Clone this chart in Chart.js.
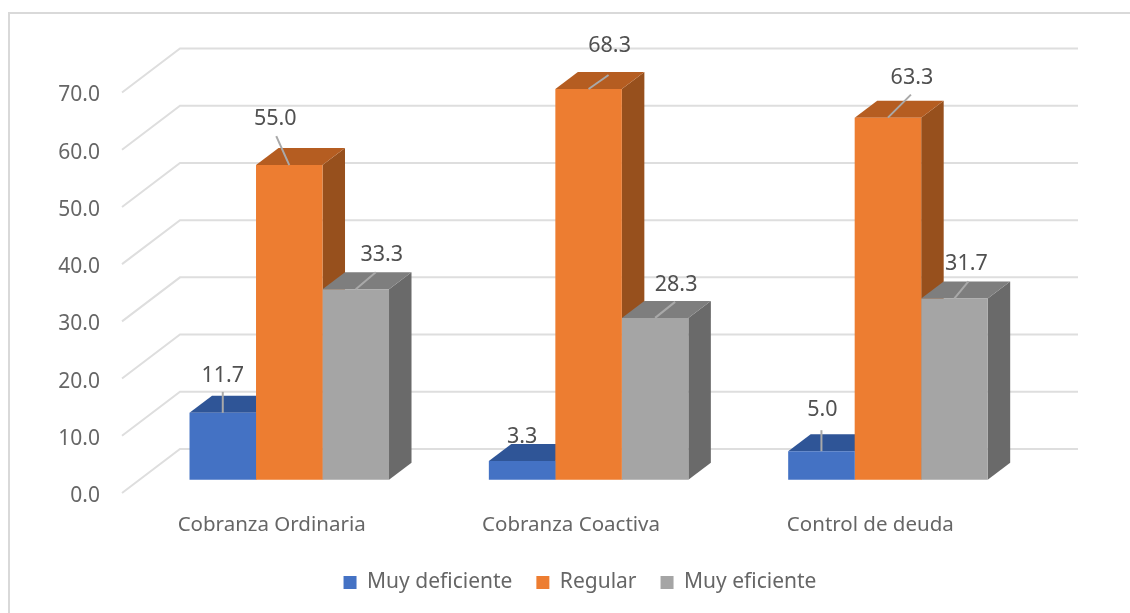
<!DOCTYPE html>
<html lang="es">
<head>
<meta charset="utf-8">
<title>Cobranza</title>
<script src="https://cdn.jsdelivr.net/npm/chart.js@4/dist/chart.umd.js"></script>
<style>
  html, body { margin: 0; padding: 0; background: #fff; }
  #wrap { position: relative; width: 1130px; height: 613px; overflow: hidden; }
  #frame { position: absolute; left: 8px; top: 12px; right: -4px; bottom: -4px;
           border-top: 2px solid #d9d9d9; border-left: 2px solid #d9d9d9; }
  canvas { position: absolute; left: 0; top: 0; }
</style>
</head>
<body>
<div id="wrap">
  <div id="frame"></div>
  <canvas id="chart" width="1130" height="613"></canvas>
</div>
<script>
const categories = ['Cobranza Ordinaria', 'Cobranza Coactiva', 'Control de deuda'];
const muyDeficiente = [11.7, 3.3, 5.0];
const regular = [55.0, 68.3, 63.3];
const muyEficiente = [33.3, 28.3, 31.7];
const valueTicks = [0, 10, 20, 30, 40, 50, 60, 70];

const FONT = 'Noto Sans';
const DEPTH_X = 22.5, DEPTH_Y = 17;      // oblique offset of a bar's back face
const WALL_X = 58, WALL_Y = 44;          // oblique offset of the back wall
const BAR_SHIFT_X = 17.6, BAR_SHIFT_Y = -13.2; // bars stand inside the floor
const TICK_NUDGE = 3;                    // optical centring of the value tick text

// Label anchor [dx, dy] and leader-line end [dx, dy] from the top centre of each bar.
const labelLayout = [
  [{ text: [0, -38], line: [0, -21] }, { text: [0, -25], line: null }, { text: [1, -42], line: [0, -21] }],
  [{ text: [-14, -47], line: [-13, -29] }, { text: [21, -44], line: [20, -14] }, { text: [24, -41], line: [23, -23] }],
  [{ text: [26, -35], line: [20, -17] }, { text: [21, -34], line: [20, -16] }, { text: [12, -36], line: [14, -17] }]
];

const faceColors = [
  { front: '#4472C4', top: '#2F5597', side: '#2F5597' },
  { front: '#ED7D31', top: '#B55D21', side: '#97501D' },
  { front: '#A5A5A5', top: '#7E7E7E', side: '#6A6A6A' }
];

function polygon(ctx, pts, fill) {
  ctx.beginPath();
  pts.forEach((p, i) => (i ? ctx.lineTo(p[0], p[1]) : ctx.moveTo(p[0], p[1])));
  ctx.closePath();
  ctx.fillStyle = fill;
  ctx.fill();
}

const scene3d = {
  id: 'scene3d',
  afterLayout(chart) {
    // Move the bar scales onto the plane where the bars stand, and centre the legend.
    const xb = chart.scales.xBars, yb = chart.scales.yBars, y = chart.scales.y, lg = chart.legend;
    xb.left += BAR_SHIFT_X; xb.right += BAR_SHIFT_X; xb.configure();
    yb.top += BAR_SHIFT_Y; yb.bottom += BAR_SHIFT_Y; yb.configure();
    y.top += TICK_NUDGE; y.bottom += TICK_NUDGE; y.configure();
    lg.left += 70; lg.right += 70; lg.top -= 10; lg.bottom -= 10;
  },
  beforeDatasetsDraw(chart) {
    const ctx = chart.ctx, y = chart.scales.y, area = chart.chartArea;
    ctx.save();
    // Side wall and back wall rules
    ctx.strokeStyle = '#dedede';
    ctx.lineWidth = 2;
    valueTicks.forEach(v => {
      const py = y.getPixelForValue(v) - TICK_NUDGE;
      ctx.beginPath();
      ctx.moveTo(area.left, py);
      ctx.lineTo(area.left + WALL_X, py - WALL_Y);
      ctx.lineTo(area.right + WALL_X, py - WALL_Y);
      ctx.stroke();
    });
    // Top and side faces of each bar; the fronts are painted over them by the library
    chart.data.datasets.forEach((ds, i) => {
      const c = faceColors[i];
      chart.getDatasetMeta(i).data.forEach(bar => {
        const l = bar.x - bar.width / 2, r = bar.x + bar.width / 2, t = bar.y, b = bar.base;
        polygon(ctx, [[r, t], [r + DEPTH_X, t - DEPTH_Y], [r + DEPTH_X, b - DEPTH_Y], [r, b]], c.side);
        polygon(ctx, [[l, t], [l + DEPTH_X, t - DEPTH_Y], [r + DEPTH_X, t - DEPTH_Y], [r, t]], c.top);
      });
    });
    ctx.restore();
  },
  afterDatasetsDraw(chart) {
    const ctx = chart.ctx;
    ctx.save();
    chart.data.datasets.forEach((ds, i) => {
      chart.getDatasetMeta(i).data.forEach((bar, j) => {
        const spec = labelLayout[i][j];
        if (spec.line) {
          ctx.strokeStyle = '#a9a9a9';
          ctx.lineWidth = 2;
          ctx.beginPath();
          ctx.moveTo(bar.x, bar.y);
          ctx.lineTo(bar.x + spec.line[0], bar.y + spec.line[1]);
          ctx.stroke();
        }
        ctx.fillStyle = '#505050';
        ctx.font = '21.5px "' + FONT + '"';
        ctx.textAlign = 'center';
        ctx.textBaseline = 'middle';
        ctx.fillText(ds.data[j].toFixed(1), bar.x + spec.text[0], bar.y + spec.text[1] + 1);
      });
    });
    ctx.restore();
  }
};

const seriesNames = ['Muy deficiente', 'Regular', 'Muy eficiente'];
const seriesValues = [muyDeficiente, regular, muyEficiente];

new Chart(document.getElementById('chart'), {
  type: 'bar',
  data: {
    labels: categories,
    datasets: seriesNames.map((name, i) => ({
      label: name,
      data: seriesValues[i],
      backgroundColor: faceColors[i].front,
      borderWidth: 0,
      xAxisID: 'xBars',
      yAxisID: 'yBars',
      barPercentage: 1,
      categoryPercentage: 0.6665,
      clip: false
    }))
  },
  plugins: [scene3d],
  options: {
    responsive: false,
    animation: false,
    layout: { padding: { top: 92.5, right: 110, left: 0, bottom: 0 } },
    scales: {
      x: {
        type: 'category',
        position: 'bottom',
        grid: { display: false, drawTicks: false },
        border: { display: false },
        ticks: { color: '#666666', font: { family: FONT, size: 20.5 }, padding: 20, maxRotation: 0, autoSkip: false },
        afterFit(s) { s.height = 65; }
      },
      y: {
        type: 'linear',
        position: 'left',
        min: 0,
        max: 70,
        grid: { display: false, drawTicks: false },
        border: { display: false },
        ticks: { stepSize: 10, color: '#666666', font: { family: FONT, size: 21 }, padding: 22,
                 callback: v => v.toFixed(1) },
        afterFit(s) { s.width = 122; }
      },
      xBars: { type: 'category', position: 'bottom', display: false },
      yBars: { type: 'linear', position: 'left', display: false, min: 0, max: 70 }
    },
    plugins: {
      tooltip: { enabled: false },
      legend: {
        position: 'bottom',
        labels: { boxWidth: 13, boxHeight: 13, padding: 24, color: '#666666', font: { family: FONT, size: 21 } }
      }
    }
  }
});
</script>
</body>
</html>
